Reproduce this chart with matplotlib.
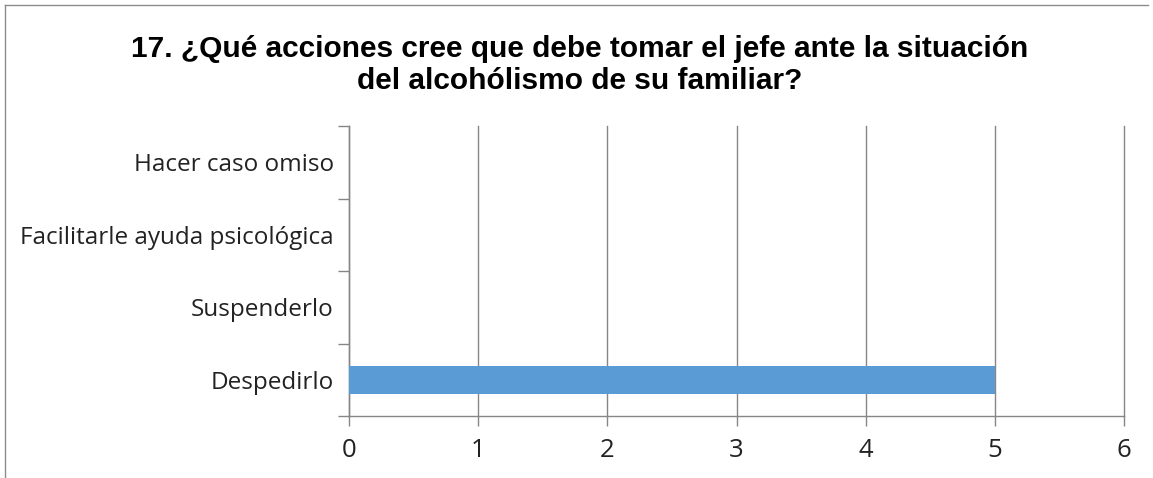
import matplotlib
matplotlib.use("Agg")
import matplotlib.pyplot as plt
from matplotlib.lines import Line2D

categories = ["Despedirlo", "Suspenderlo", "Facilitarle ayuda psicológica", "Hacer caso omiso"]
values = [5, 0, 0, 0]
xticks = [0, 1, 2, 3, 4, 5, 6]
title = "17. ¿Qué acciones cree que debe tomar el jefe ante la situación\ndel alcohólismo de su familiar?"

W, H = 1153, 478
fig = plt.figure(figsize=(W / 100, H / 100), dpi=100)
ax = fig.add_axes([349 / W, 1 - 416 / H, (1124 - 349) / W, (416 - 126) / H])

grey = "#868686"
ax.barh(range(len(categories)), values, height=0.38, color="#5B9BD5", zorder=3)
ax.set_xlim(0, 6)
ax.set_ylim(-0.5, len(categories) - 0.5)
ax.set_xticks(xticks)
ax.set_xticklabels([str(t) for t in xticks])
ax.set_yticks(range(len(categories)))
ax.set_yticklabels(categories)
ax.set_yticks([i - 0.5 for i in range(len(categories) + 1)], minor=True)
ax.tick_params(axis="y", which="major", length=0, pad=11)
ax.tick_params(axis="y", which="minor", length=8, color=grey, width=1)
ax.tick_params(axis="x", length=7, color=grey, width=1, pad=9)
for lab in ax.get_yticklabels():
    lab.set_fontfamily("Open Sans")
    lab.set_fontsize(17.5)
    lab.set_color("#222222")
for lab in ax.get_xticklabels():
    lab.set_fontfamily("Open Sans")
    lab.set_fontsize(18.5)
    lab.set_color("#222222")
ax.grid(axis="x", color=grey, linewidth=1, zorder=0)
for gl in ax.get_xgridlines():
    gl.set_clip_on(False)
for s in ["top", "right"]:
    ax.spines[s].set_visible(False)
for s in ["left", "bottom"]:
    ax.spines[s].set_color(grey)
    ax.spines[s].set_linewidth(1)

fig.text(580 / W, 1 - 65 / H, title, ha="center", va="center", fontsize=21.5,
         fontweight="bold", family="Liberation Sans", linespacing=1.2)

border = "#8c8c8c"
fig.add_artist(Line2D([5 / W, 5 / W], [0, 1 - 5 / H], transform=fig.transFigure,
                      color=border, linewidth=1))
fig.add_artist(Line2D([5 / W, 1148 / W], [1 - 5 / H, 1 - 5 / H], transform=fig.transFigure,
                      color=border, linewidth=1))

fig.savefig("out.png", dpi=100)
